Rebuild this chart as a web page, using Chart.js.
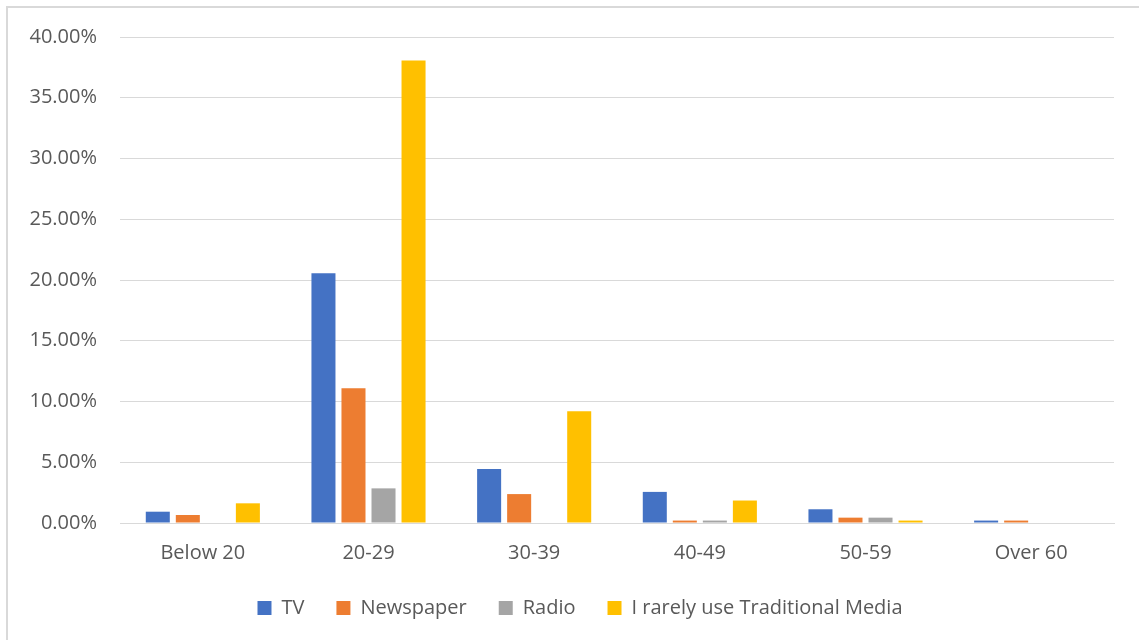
<!DOCTYPE html>
<html><head><meta charset="utf-8">
<script src="https://cdn.jsdelivr.net/npm/chart.js@4/dist/chart.umd.min.js"></script>
<style>
html,body{margin:0;padding:0;background:#fff;overflow:hidden;}
#frame{position:absolute;left:6px;top:6px;width:1200px;height:700px;border-left:2px solid #d9d9d9;border-top:2px solid #d9d9d9;}
#c{position:absolute;left:0;top:0;}
</style></head><body>
<div id="frame"></div>
<canvas id="c" width="1139" height="640"></canvas>
<script>
const categories = ["Below 20","20-29","30-39","40-49","50-59","Over 60"];
const tv = [0.0093,0.2055,0.0445,0.0256,0.0113,0.0020];
const newspaper = [0.0066,0.1110,0.0238,0.0020,0.0044,0.0020];
const radio = [0,0.0285,0,0.0020,0.0044,0];
const rarely = [0.0162,0.3806,0.0920,0.0185,0.0020,0];
const seriesNames = ["TV","Newspaper","Radio","I rarely use Traditional Media"];
const colors = ["#4472c4","#ed7d31","#a5a5a5","#ffc000"];
const yTicks = [0,0.05,0.10,0.15,0.20,0.25,0.30,0.35,0.40];

const font = "'Open Sans', sans-serif";
const legendShift = {
  id:'legendShift',
  afterInit(chart){
    const lg = chart.legend;
    if(!lg) return;
    const d = lg.draw.bind(lg);
    lg.draw = function(){ const c = chart.ctx; c.save(); c.translate(23,0); d(); c.restore(); };
  }
};
new Chart(document.getElementById('c'), {
  type:'bar',
  data:{labels:categories, datasets:[tv,newspaper,radio,rarely].map((d,i)=>({label:seriesNames[i],data:d,backgroundColor:colors[i],borderWidth:0,categoryPercentage:0.725,barPercentage:0.8}))},
  plugins:[legendShift],
  options:{
    responsive:false, animation:false,
    layout:{padding:{left:0,right:25,top:37,bottom:12}},
    plugins:{
      legend:{position:'bottom',labels:{boxWidth:14,boxHeight:14,padding:32,color:'#595959',font:{family:font,size:20}}},
      tooltip:{enabled:false}
    },
    scales:{
      x:{grid:{display:false,drawTicks:false},border:{color:'#d9d9d9',width:1},
         afterFit:a=>{a.height=43;},
         ticks:{color:'#595959',font:{family:font,size:20},padding:18}},
      y:{min:0,max:0.40,afterBuildTicks:a=>{a.ticks=yTicks.map(v=>({value:v}));},
         afterFit:a=>{a.width=120;},
         grid:{color:'#d9d9d9',drawTicks:false},border:{display:false},
         ticks:{color:'#595959',font:{family:font,size:20},padding:23,callback:v=>(v*100).toFixed(2)+'%'}}
    }
  }
});
</script></body></html>
